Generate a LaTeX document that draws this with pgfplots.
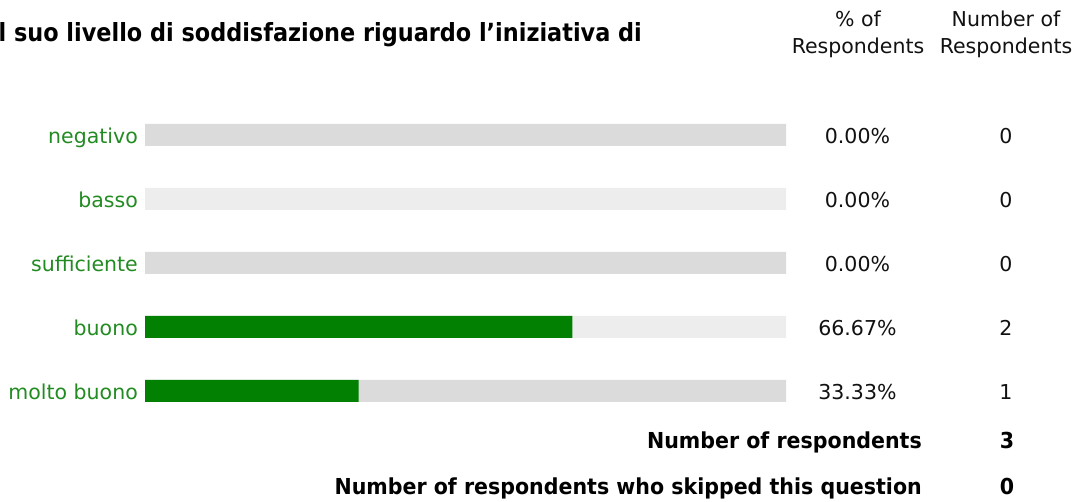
\documentclass[border=0pt]{standalone}
\usepackage{graphicx}
\usepackage{pgfplots}
\pgfplotsset{compat=1.18}
\usepackage{pgfplotstable}
\usepackage{fontspec}
\setmainfont{DejaVu Sans}
\definecolor{trackdark}{RGB}{219,219,219}
\definecolor{tracklight}{RGB}{237,237,237}
\definecolor{bargreen}{RGB}{2,128,2}
\definecolor{labgreen}{RGB}{34,139,34}
\definecolor{txt}{RGB}{17,17,17}

\pgfplotstableread{
idx label pct n
0 negativo 0 0
1 basso 0 0
2 sufficiente 0 0
3 buono 66.67 2
4 {molto buono} 33.33 1
}\datatable
\pgfplotstableread{
idx v
0 100
2 100
4 100
}\darkrows
\pgfplotstableread{
idx v
1 100
3 100
}\lightrows

\newcommand\bodyfont{\fontsize{20.5}{24}\selectfont}

\begin{document}
\begin{tikzpicture}
\path[use as bounding box] (0,0) rectangle (1091pt,502pt);
\begin{axis}[
  at={(145pt,79pt)}, anchor=south west,
  scale only axis, width=641pt, height=320pt,
  xmin=0, xmax=100, ymin=-0.5, ymax=4.5, y dir=reverse,
  clip=false,
  axis line style={draw=none}, tick style={draw=none}, major tick length=0pt,
  xtick=\empty, ytick={0,1,2,3,4},
  yticklabels from table={\datatable}{label},
  yticklabel style={anchor=base east, yshift=-9pt, xshift=-7pt, inner sep=0pt, text=labgreen, font=\bodyfont},
  /pgf/number format/assume math mode=true,
]
\addplot[xbar, bar shift=0pt, bar width=22pt, fill=trackdark, draw=none] table[x=v, y=idx]{\darkrows};
\addplot[xbar, bar shift=0pt, bar width=22pt, fill=tracklight, draw=none] table[x=v, y=idx]{\lightrows};
\addplot[xbar, bar shift=0pt, bar width=22pt, fill=bargreen, draw=none,
  unbounded coords=discard, x filter/.expression={x<=0 ? nan : x}] table[x=pct, y=idx]{\datatable};
% percentage column
\addplot[only marks, mark=none, point meta=\thisrow{pct},
  nodes near coords={\pgfmathprintnumber[fixed,fixed zerofill,precision=2]{\pgfplotspointmeta}\%},
  every node near coord/.append style={anchor=base, yshift=-9pt, inner sep=0pt, text=txt, font=\bodyfont}]
  table[x expr=111.15, y=idx]{\datatable};
% count column
\addplot[only marks, mark=none, point meta=\thisrow{n},
  nodes near coords={\pgfmathprintnumber{\pgfplotspointmeta}},
  every node near coord/.append style={anchor=base, yshift=-9pt, inner sep=0pt, text=txt, font=\bodyfont}]
  table[x expr=134.32, y=idx]{\datatable};
\end{axis}

% title (cut at the left edge as in the reference)
\node[anchor=base east, inner sep=0pt, text=black] at (642pt,460pt)
  {\fontsize{25}{29}\selectfont\bfseries\scalebox{0.895}[1]{Il suo livello di soddisfazione riguardo l’iniziativa di}};

% column headers
\node[anchor=base, inner sep=0pt, text=txt, font=\bodyfont] at (858pt,475pt) {\% of};
\node[anchor=base, inner sep=0pt, text=txt, font=\bodyfont] at (858pt,448pt) {Respondents};
\node[anchor=base, inner sep=0pt, text=txt, font=\bodyfont] at (1006pt,475pt) {Number of};
\node[anchor=base, inner sep=0pt, text=txt, font=\bodyfont] at (1006pt,448pt) {Respondents};

% summary
\node[anchor=base east, inner sep=0pt, text=black] at (922pt,53pt)
  {\fontsize{22}{26}\selectfont\bfseries\scalebox{0.935}[1]{Number of respondents}};
\node[anchor=base, inner sep=0pt, text=black] at (1007pt,53pt)
  {\fontsize{22}{26}\selectfont\bfseries\scalebox{0.935}[1]{3}};
\node[anchor=base east, inner sep=0pt, text=black] at (922pt,7pt)
  {\fontsize{22}{26}\selectfont\bfseries\scalebox{0.935}[1]{Number of respondents who skipped this question}};
\node[anchor=base, inner sep=0pt, text=black] at (1007pt,7pt)
  {\fontsize{22}{26}\selectfont\bfseries\scalebox{0.935}[1]{0}};
\end{tikzpicture}
\end{document}
